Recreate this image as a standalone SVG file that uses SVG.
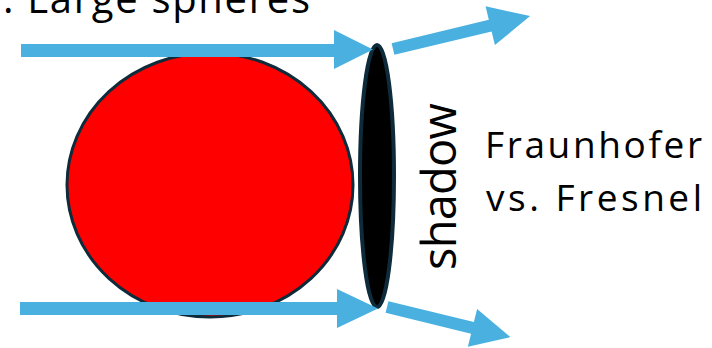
<svg xmlns="http://www.w3.org/2000/svg" width="712" height="348" viewBox="0 0 712 348">
<style>
.lbl{font-family:"Open Sans","Liberation Sans",sans-serif;fill:#000}
.arr{fill:#49B0E0}
</style>
<rect width="712" height="348" fill="#fff"/>
<g id="title"><text class="lbl" x="3" y="13" font-size="40" textLength="307" lengthAdjust="spacing">. Large spheres</text></g>
<g id="sphere"><ellipse cx="210" cy="185" rx="143" ry="132" fill="#FF0000" stroke="#0D2B3A" stroke-width="3"/></g>
<g id="shadow-disk"><ellipse cx="377" cy="176" rx="17" ry="131" fill="#000" stroke="#0D2B3A" stroke-width="4"/></g>
<g id="connectors">
<polygon class="arr" points="21,44 334,44 334,30 373,49.5 334,69 334,57 21,57"/>
<polygon class="arr" points="20,302 337,302 337,289 378,308.5 337,328 337,315 20,315"/>
<polygon class="arr" transform="translate(393,49) rotate(-13.5)" points="0,-6 100,-6 100,-20 141,0 100,20 100,6 0,6"/>
<polygon class="arr" transform="translate(387,307) rotate(13.7)" points="0,-6 88,-6 88,-19.5 127,0 88,19.5 88,6 0,6"/>
</g>
<g id="shadow-label"><text class="lbl" font-size="47" transform="translate(456,270) rotate(-90)" textLength="167" lengthAdjust="spacing">shadow</text></g>
<g id="caption">
<text class="lbl" x="485" y="158" font-size="37" textLength="217" lengthAdjust="spacing">Fraunhofer</text>
<text class="lbl" x="486" y="211" font-size="37" textLength="216" lengthAdjust="spacing">vs. Fresnel</text>
</g>
</svg>
